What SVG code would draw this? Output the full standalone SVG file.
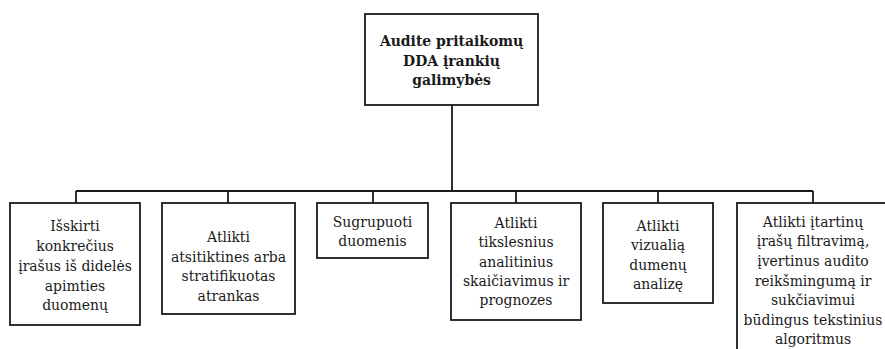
<svg xmlns="http://www.w3.org/2000/svg" width="885" height="349" viewBox="0 0 885 349">
<style>
.box{fill:#fff;stroke:#1a1a1a;stroke-width:1.8}
.ln{fill:none;stroke:#1a1a1a;stroke-width:1.8}
.t{font-family:"DejaVu Serif Condensed","DejaVu Serif","Liberation Serif",serif;font-size:15.5px;fill:#1a1a1a;text-anchor:middle}
.b{font-weight:bold}
</style>
<rect width="885" height="349" fill="#fff"/>
<g id="connectors">
<path class="ln" d="M452 105V191M76 191H813M76 191V203M228 191V203M373 191V203M516 191V203M658 191V203M813 191V203"/>
</g>
<g id="root">
<rect class="box" x="365" y="14" width="173" height="91"/>
<text class="t b" x="451.5" y="46">Audite pritaikomų</text>
<text class="t b" x="451.5" y="66">DDA įrankių</text>
<text class="t b" x="451.5" y="85">galimybės</text>
</g>
<g id="n1">
<rect class="box" x="10" y="203" width="130" height="122"/>
<text class="t" x="75" y="231">Išskirti</text>
<text class="t" x="75" y="251">konkrečius</text>
<text class="t" x="75" y="270.5">įrašus iš didelės</text>
<text class="t" x="75" y="290.5">apimties</text>
<text class="t" x="75" y="310">duomenų</text>
</g>
<g id="n2">
<rect class="box" x="162" y="203" width="133" height="111"/>
<text class="t" x="228.5" y="241.5">Atlikti</text>
<text class="t" x="228.5" y="261.5">atsitiktines arba</text>
<text class="t" x="228.5" y="281">stratifikuotas</text>
<text class="t" x="228.5" y="300.5">atrankas</text>
</g>
<g id="n3">
<rect class="box" x="317" y="203" width="111" height="55"/>
<text class="t" x="372.5" y="226.5">Sugrupuoti</text>
<text class="t" x="372.5" y="246">duomenis</text>
</g>
<g id="n4">
<rect class="box" x="451" y="203" width="130" height="117"/>
<text class="t" x="516" y="227.5">Atlikti</text>
<text class="t" x="516" y="247">tikslesnius</text>
<text class="t" x="516" y="266.5">analitinius</text>
<text class="t" x="516" y="286">skaičiavimus ir</text>
<text class="t" x="516" y="305">prognozes</text>
</g>
<g id="n5">
<rect class="box" x="603" y="203" width="110" height="100"/>
<text class="t" x="658" y="231">Atlikti</text>
<text class="t" x="658" y="250">vizualią</text>
<text class="t" x="658" y="269.5">dumenų</text>
<text class="t" x="658" y="289">analizę</text>
</g>
<g id="n6">
<rect class="box" x="737" y="203" width="154" height="160"/>
<text class="t" x="813" y="226.5">Atlikti įtartinų</text>
<text class="t" x="813" y="246">įrašų filtravimą,</text>
<text class="t" x="813" y="266">įvertinus audito</text>
<text class="t" x="813" y="286">reikšmingumą ir</text>
<text class="t" x="813" y="305">sukčiavimui</text>
<text class="t" x="813" y="325">būdingus tekstinius</text>
<text class="t" x="813" y="344">algoritmus</text>
</g>
</svg>
